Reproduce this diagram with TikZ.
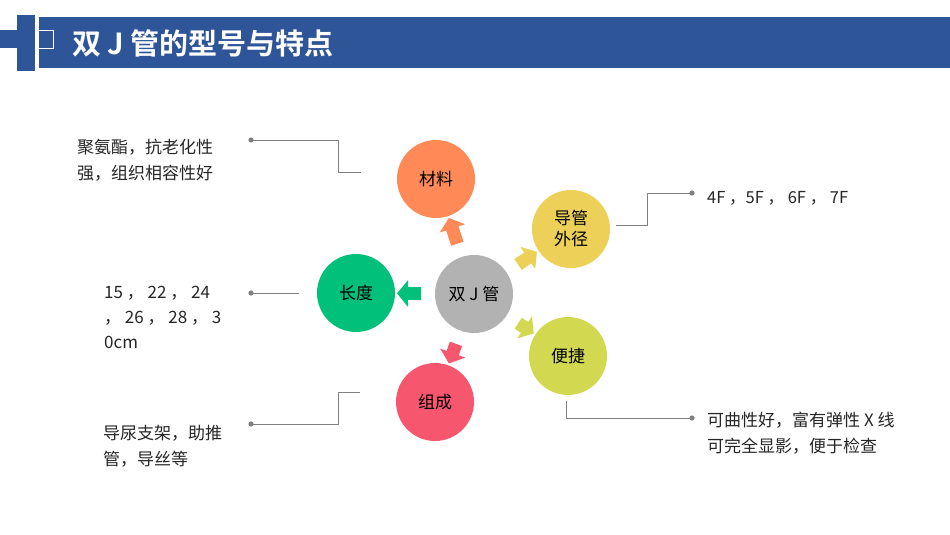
\documentclass[tikz,border=0pt]{standalone}
\usepackage{fontspec}
\setmainfont{Noto Sans CJK SC}
\newfontfamily\cjkbold{Noto Sans CJK SC Bold}
\usetikzlibrary{arrows.meta}
\definecolor{barblue}{RGB}{46,85,152}
\definecolor{cgray}{RGB}{178,178,178}
\definecolor{corange}{RGB}{255,138,87}
\definecolor{cyellow}{RGB}{236,208,88}
\definecolor{cgreen}{RGB}{0,192,122}
\definecolor{clime}{RGB}{210,216,80}
\definecolor{cpink}{RGB}{247,86,111}
\definecolor{lgray}{RGB}{128,128,128}
\definecolor{txt}{RGB}{38,38,38}
\tikzset{
  bubble/.style={circle, minimum size=78pt, inner sep=0pt, text=black,
    font=\fontsize{17}{21}\selectfont, align=center},
  blockarr/.style={line width=13pt, shorten <=53pt, shorten >=41pt,
    -{Triangle[length=11pt,width=26pt]}},
  note/.style={anchor=west, inner sep=0pt, align=left, text=txt},
  leader/.style={draw=lgray, line width=0.8pt},
  dotmark/.style={fill=lgray}
}
\begin{document}
\begin{tikzpicture}[x=1pt,y=-1pt]
\useasboundingbox (0,0) rectangle (950,535);
% title bar
\fill[barblue] (0,30) rectangle (17,48);
\fill[barblue] (17,15) rectangle (35,71);
\fill[barblue] (39,17) rectangle (950,68);
\draw[white, line width=0.9pt] (39,30) -- (53,30) -- (53,48) -- (39,48);
\node[anchor=west, inner sep=0pt, text=white, font=\cjkbold\fontsize{29}{32}\selectfont] (title) at (72,43) {双 J 管的型号与特点};
% bubbles
\node[bubble, fill=cgray] (c) at (474,294) {双 J 管};
\node[bubble, fill=corange] (m) at (436,179) {材料};
\node[bubble, fill=cyellow] (d) at (571,229) {导管\\外径};
\node[bubble, fill=cgreen] (l) at (356,293) {长度};
\node[bubble, fill=clime] (b) at (568,356) {便捷};
\node[bubble, fill=cpink] (z) at (435,402) {组成};
% block arrows
\draw[blockarr, corange] (c.center) -- (m.center);
\draw[blockarr, cyellow] (c.center) -- (d.center);
\draw[blockarr, cgreen] (c.center) -- (l.center);
\draw[blockarr, clime] (c.center) -- (b.center);
\draw[blockarr, cpink] (c.center) -- (z.center);
% leader lines
\coordinate (p1) at (251,140);
\coordinate (q1) at (361,172);
\draw[leader] (p1) -- (338,140) -- (338,172) -- (q1);
\fill[dotmark] (p1) circle (2.6);
\coordinate (p2) at (251,293);
\coordinate (q2) at (299,293);
\draw[leader] (p2) -- (q2);
\fill[dotmark] (p2) circle (2.6);
\coordinate (p3) at (251,424);
\coordinate (q3) at (360,392);
\draw[leader] (p3) -- (338,424) -- (338,392) -- (q3);
\fill[dotmark] (p3) circle (2.6);
\coordinate (p4) at (692,193);
\coordinate (q4) at (616,225);
\draw[leader] (q4) -- (647,225) -- (647,193) -- (p4);
\fill[dotmark] (p4) circle (2.6);
\coordinate (p5) at (692,418);
\coordinate (q5) at (566,401);
\draw[leader] (q5) -- (566,418) -- (p5);
\fill[dotmark] (p5) circle (2.6);
% notes
\node[note, font=\fontsize{17}{26}\selectfont] (t1) at (77,160) {聚氨酯，抗老化性\\强，组织相容性好};
\node[note, font=\fontsize{17}{25}\selectfont] (t2) at (104,317) {15 ， 22 ， 24\\ ， 26 ， 28 ， 3\\0cm};
\node[note, font=\fontsize{17}{26}\selectfont] (t3) at (103,446) {导尿支架，助推\\管，导丝等};
\node[note, font=\fontsize{16.5}{20}\selectfont] (t4) at (707,198) {4F ，5F ， 6F ， 7F};
\node[note, font=\fontsize{17}{26}\selectfont] (t5) at (707,433) {可曲性好，富有弹性 X 线\\可完全显影，便于检查};
\end{tikzpicture}
\end{document}
